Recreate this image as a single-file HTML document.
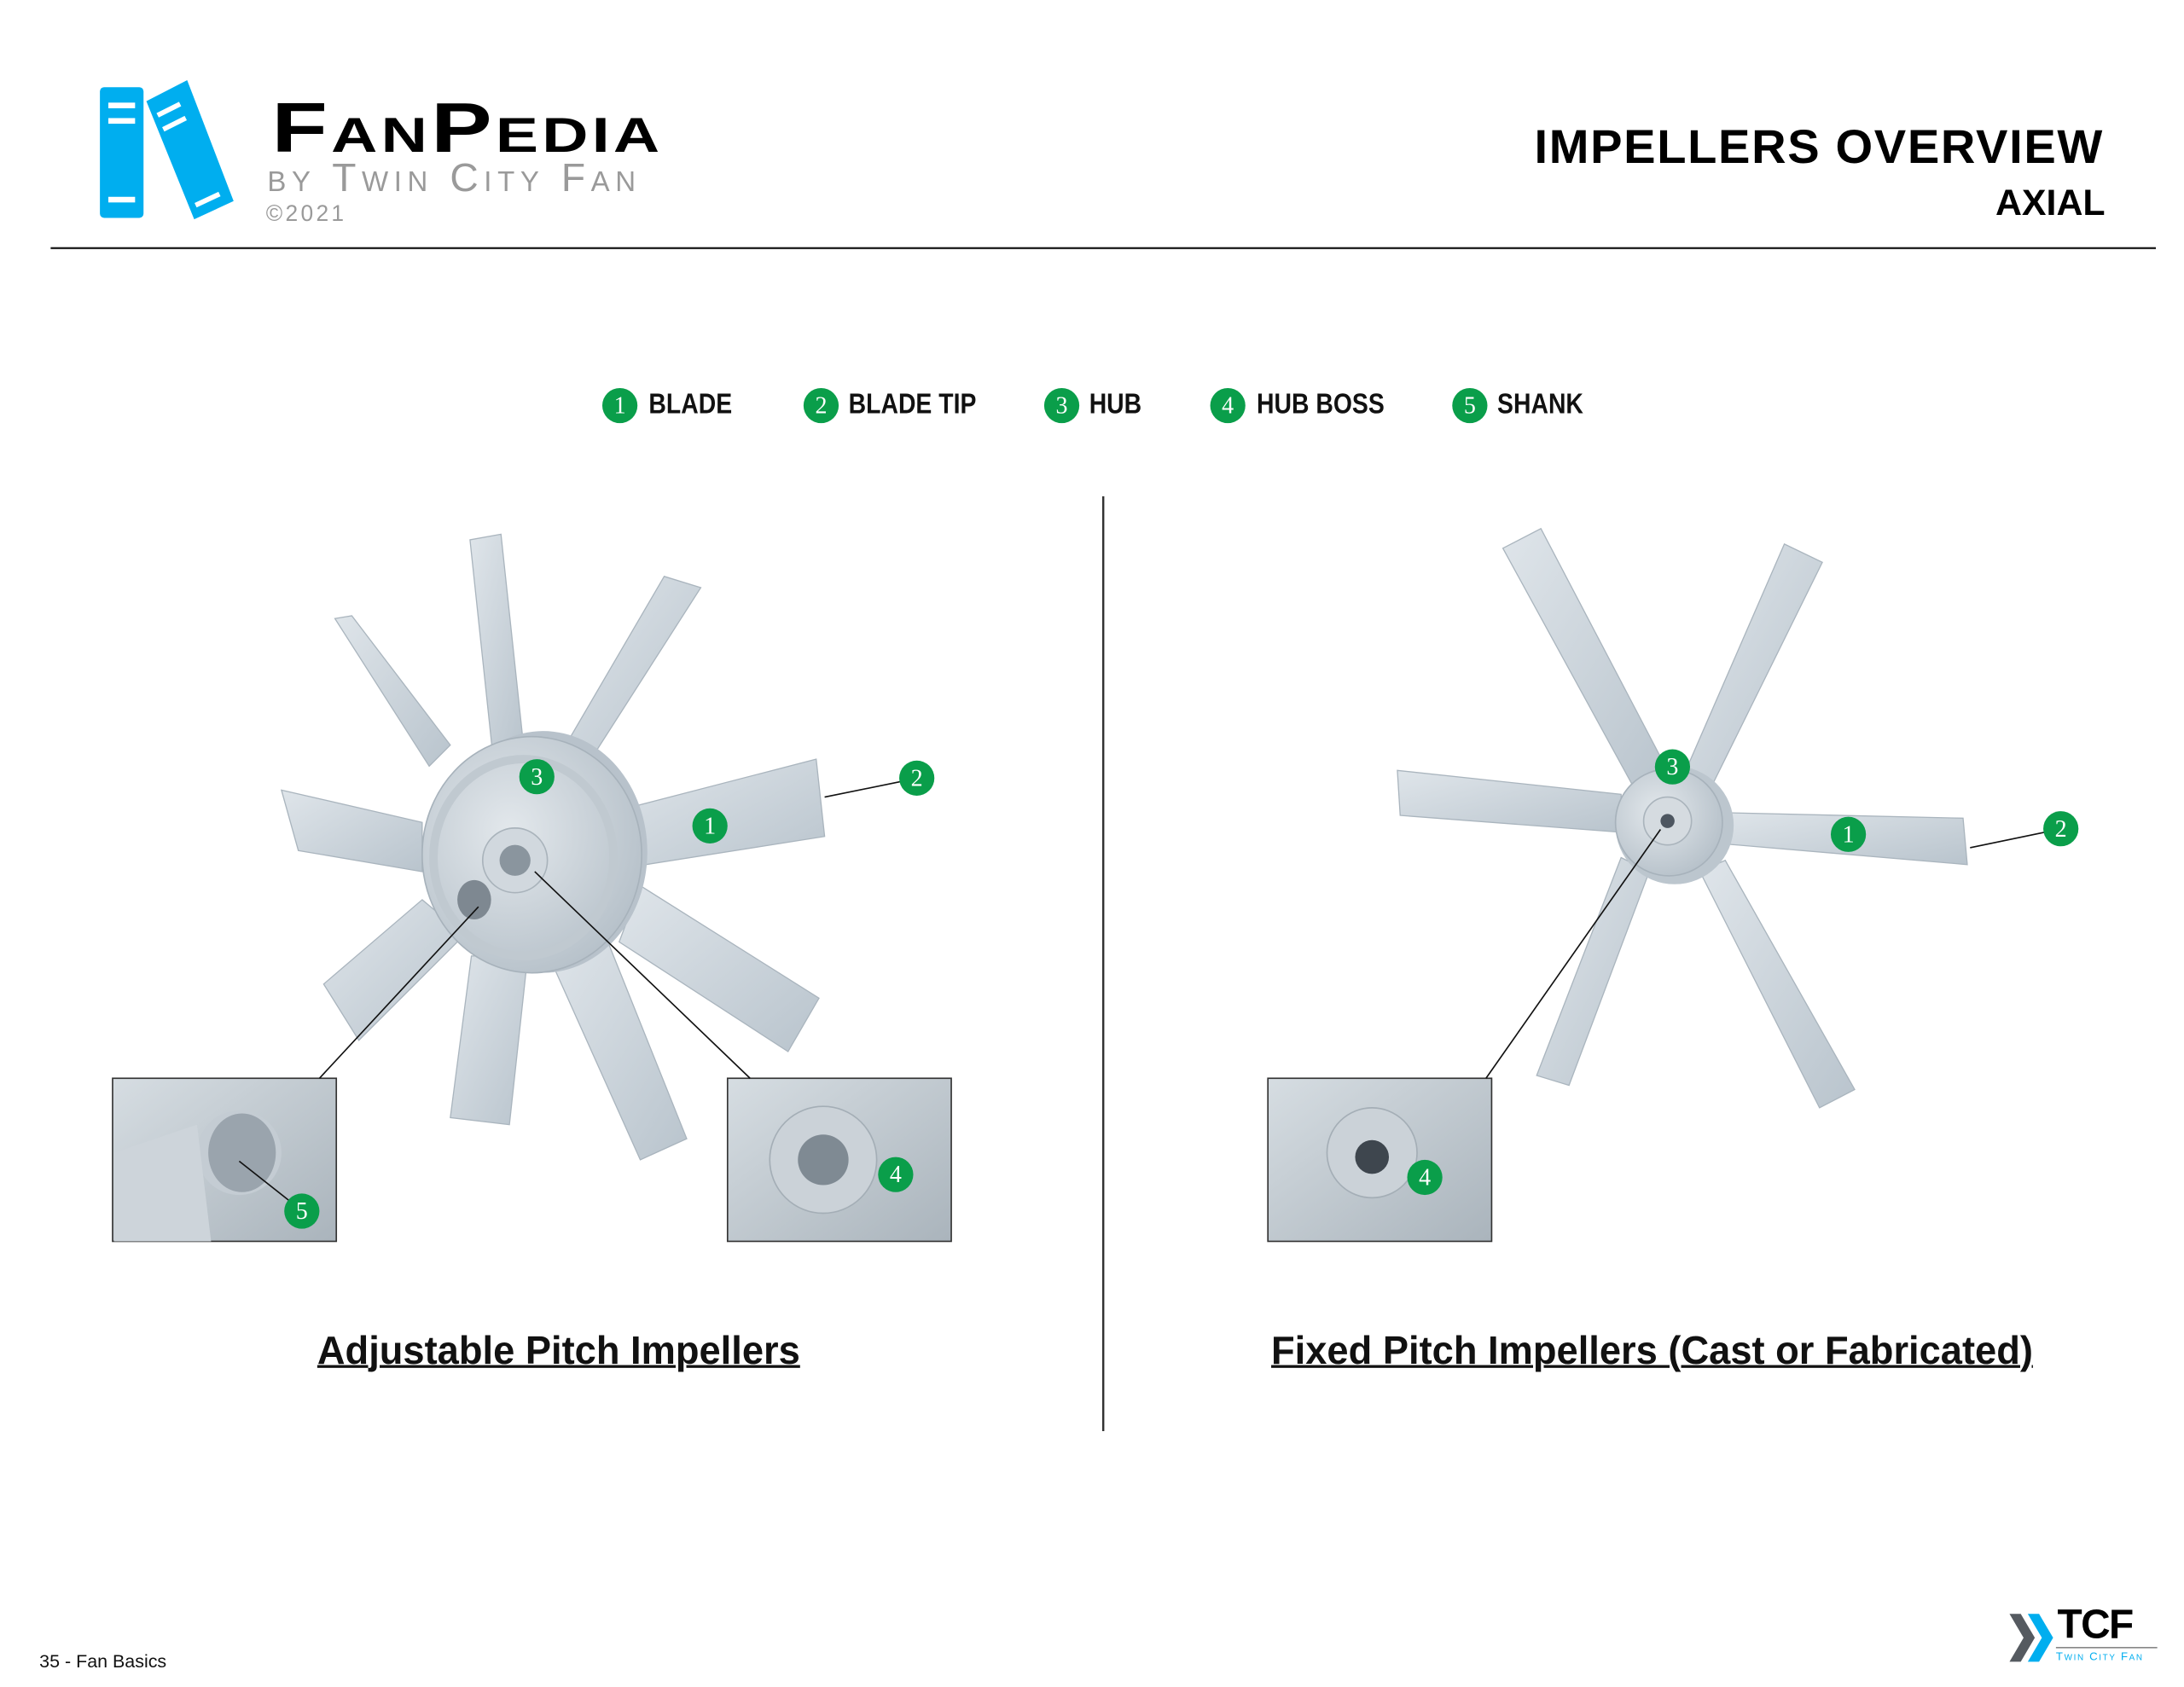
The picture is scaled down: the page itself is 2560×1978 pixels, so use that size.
<!DOCTYPE html>
<html><head><meta charset="utf-8"><style>
html,body{margin:0;padding:0;background:#fff;}
body{width:2560px;height:1978px;overflow:hidden;position:relative;}
#s{position:absolute;left:0;top:0;width:1552px;height:1200px;transform-origin:0 0;transform:scale(1.64948,1.64833);font-family:"Liberation Sans",sans-serif;}
.a{position:absolute;white-space:nowrap;}
.leg{font-weight:bold;font-size:20px;color:#111;top:277px;transform:scaleX(0.86);transform-origin:0 0;}
.dot{position:absolute;width:25px;height:25px;border-radius:50%;background:#0a9e4a;color:#fff;font-family:"Liberation Serif",serif;font-size:17px;text-align:center;line-height:25px;top:276px;}
.cap{font-weight:bold;font-size:28px;text-decoration:underline;color:#111;top:945px;transform:translateX(-50%) scaleX(0.98);text-decoration-thickness:2px;}
</style></head><body><div id="s">
<svg width="1552" height="1200" style="position:absolute;left:0;top:0">
<defs>
<linearGradient id="bl" x1="0" y1="0" x2="1" y2="1"><stop offset="0" stop-color="#dfe5ea"/><stop offset="1" stop-color="#b9c4cd"/></linearGradient>
<radialGradient id="hb" cx="0.4" cy="0.4" r="0.7"><stop offset="0" stop-color="#e3e8ec"/><stop offset="1" stop-color="#b3bec7"/></radialGradient>
<linearGradient id="ins" x1="0" y1="0" x2="1" y2="1"><stop offset="0" stop-color="#d6dde2"/><stop offset="1" stop-color="#aab4bc"/></linearGradient>
</defs>
<rect x="71" y="62" width="31" height="93" rx="3" fill="#00aeef"/>
<rect x="77" y="73" width="19" height="4" fill="#fff"/><rect x="77" y="84" width="19" height="4" fill="#fff"/><rect x="77" y="140" width="19" height="4" fill="#fff"/>
<polygon points="104,72 133,57 166,143 138,156" fill="#00aeef"/>
<line x1="112" y1="82" x2="128" y2="74" stroke="#fff" stroke-width="3.5"/><line x1="116" y1="92" x2="132" y2="84" stroke="#fff" stroke-width="3.5"/><line x1="139" y1="146" x2="156" y2="138" stroke="#fff" stroke-width="3.5"/>
<line x1="36" y1="176.5" x2="1532" y2="176.5" stroke="#222" stroke-width="1.5"/>
<line x1="784" y1="353" x2="784" y2="1018" stroke="#333" stroke-width="1.5"/>
<g fill="url(#bl)" stroke="#aab5be" stroke-width="0.8">
<polygon points="334,384 356,380 372,530 350,535"/>
<polygon points="472,410 498,418 420,540 402,530"/>
<polygon points="445,575 580,540 586,595 440,618"/>
<polygon points="455,630 582,710 560,748 440,670"/>
<polygon points="390,680 430,665 488,810 455,825"/>
<polygon points="335,680 375,680 362,800 320,795"/>
<polygon points="300,640 330,665 255,740 230,700"/>
<polygon points="200,562 300,585 300,620 212,605"/>
<polygon points="238,440 250,438 320,530 305,545"/>
</g>
<ellipse cx="386" cy="606" rx="74" ry="86" fill="#b8c2cb"/>
<ellipse cx="378" cy="608" rx="78" ry="84" fill="url(#hb)" stroke="#a7b2bb"/>
<ellipse cx="372" cy="610" rx="64" ry="70" fill="none" stroke="#c0c9d0" stroke-width="6"/>
<circle cx="366" cy="612" r="23" fill="#d1d8de" stroke="#a9b3bb"/>
<circle cx="366" cy="612" r="11" fill="#8a959e"/>
<ellipse cx="337" cy="640" rx="12" ry="14" fill="#7e8891"/>
<g fill="url(#bl)" stroke="#aab5be" stroke-width="0.8">
<polygon points="1068,390 1095,376 1185,548 1162,562"/>
<polygon points="1268,387 1295,400 1215,562 1198,548"/>
<polygon points="993,548 1152,565 1152,592 995,580"/>
<polygon points="1222,578 1395,582 1398,615 1222,600"/>
<polygon points="1152,610 1172,620 1115,772 1092,765"/>
<polygon points="1208,620 1226,612 1318,775 1293,788"/>
</g>
<circle cx="1190" cy="587" r="42" fill="#bcc6ce"/>
<circle cx="1186" cy="585" r="38" fill="url(#hb)" stroke="#a7b2bb"/>
<circle cx="1185" cy="584" r="17" fill="#d5dbe0" stroke="#aab4bc"/>
<circle cx="1185" cy="584" r="5" fill="#4d5660"/>
<rect x="80" y="767" width="159" height="116" fill="url(#ins)" stroke="#333"/>
<circle cx="170" cy="820" r="30" fill="#c4ccd3"/><ellipse cx="172" cy="820" rx="24" ry="28" fill="#9aa4ad"/>
<polygon points="81,820 140,800 150,883 81,883" fill="#cdd4da"/>
<rect x="517" y="767" width="159" height="116" fill="url(#ins)" stroke="#333"/>
<circle cx="585" cy="825" r="38" fill="#cbd2d8" stroke="#a4aeb6"/><circle cx="585" cy="825" r="18" fill="#7f8a93"/>
<rect x="901" y="767" width="159" height="116" fill="url(#ins)" stroke="#333"/>
<circle cx="975" cy="820" r="32" fill="#cbd2d8" stroke="#a4aeb6"/><circle cx="975" cy="823" r="12" fill="#3e464e"/>
<g stroke="#111" stroke-width="1">
<line x1="586" y1="567" x2="640" y2="556"/>
<line x1="340" y1="645" x2="227" y2="767"/>
<line x1="380" y1="620" x2="533" y2="767"/>
<line x1="170" y1="826" x2="208" y2="856"/>
<line x1="1400" y1="603" x2="1453" y2="592"/>
<line x1="1180" y1="590" x2="1056" y2="767"/>
</g>
<polygon points="1428,1148 1436,1148 1446,1165 1436,1182 1428,1182 1438,1165" fill="#555a60"/>
<polygon points="1441,1148 1449,1148 1459,1165 1449,1182 1441,1182 1451,1165" fill="#00aeef"/>
<line x1="1461" y1="1172" x2="1533" y2="1172" stroke="#888" stroke-width="1"/>
</svg>
<div class="a" style="left:193px;top:62px;font-size:50px;font-weight:bold;font-variant:small-caps;letter-spacing:2px;transform:scaleX(1.3);transform-origin:0 0">FanPedia</div>
<div class="a" style="left:190px;top:111px;font-size:28px;color:#9a9a9a;font-variant:small-caps;letter-spacing:4px">by Twin City Fan</div>
<div class="a" style="left:189px;top:144px;font-size:16px;color:#9a9a9a;letter-spacing:2px">©2021</div>
<div class="a" style="right:57px;top:86px;font-size:34px;font-weight:bold;letter-spacing:1px">IMPELLERS OVERVIEW</div>
<div class="a" style="right:56px;top:129px;font-size:26px;font-weight:bold">AXIAL</div>
<div class="dot" style="left:428px">1</div><div class="a leg" style="left:461px">BLADE</div>
<div class="dot" style="left:571px">2</div><div class="a leg" style="left:603px">BLADE TIP</div>
<div class="dot" style="left:742px">3</div><div class="a leg" style="left:774px">HUB</div>
<div class="dot" style="left:860px">4</div><div class="a leg" style="left:893px">HUB BOSS</div>
<div class="dot" style="left:1032px">5</div><div class="a leg" style="left:1064px">SHANK</div>
<div class="dot" style="left:369px;top:540px">3</div>
<div class="dot" style="left:492px;top:575px">1</div>
<div class="dot" style="left:639px;top:541px">2</div>
<div class="dot" style="left:202px;top:849px">5</div>
<div class="dot" style="left:624px;top:823px">4</div>
<div class="dot" style="left:1176px;top:533px">3</div>
<div class="dot" style="left:1301px;top:581px">1</div>
<div class="dot" style="left:1452px;top:577px">2</div>
<div class="dot" style="left:1000px;top:825px">4</div>
<div class="a cap" style="left:397px">Adjustable Pitch Impellers</div>
<div class="a cap" style="left:1174px">Fixed Pitch Impellers (Cast or Fabricated)</div>
<div class="a" style="left:28px;top:1174px;font-size:13px;color:#111">35 - Fan Basics</div>
<div class="a" style="left:1462px;top:1140px;font-size:29px;font-weight:bold;letter-spacing:-1px">TCF</div>
<div class="a" style="left:1461px;top:1174px;font-size:8px;color:#00aeef;font-variant:small-caps;letter-spacing:1px">Twin City Fan</div>
</div></body></html>
